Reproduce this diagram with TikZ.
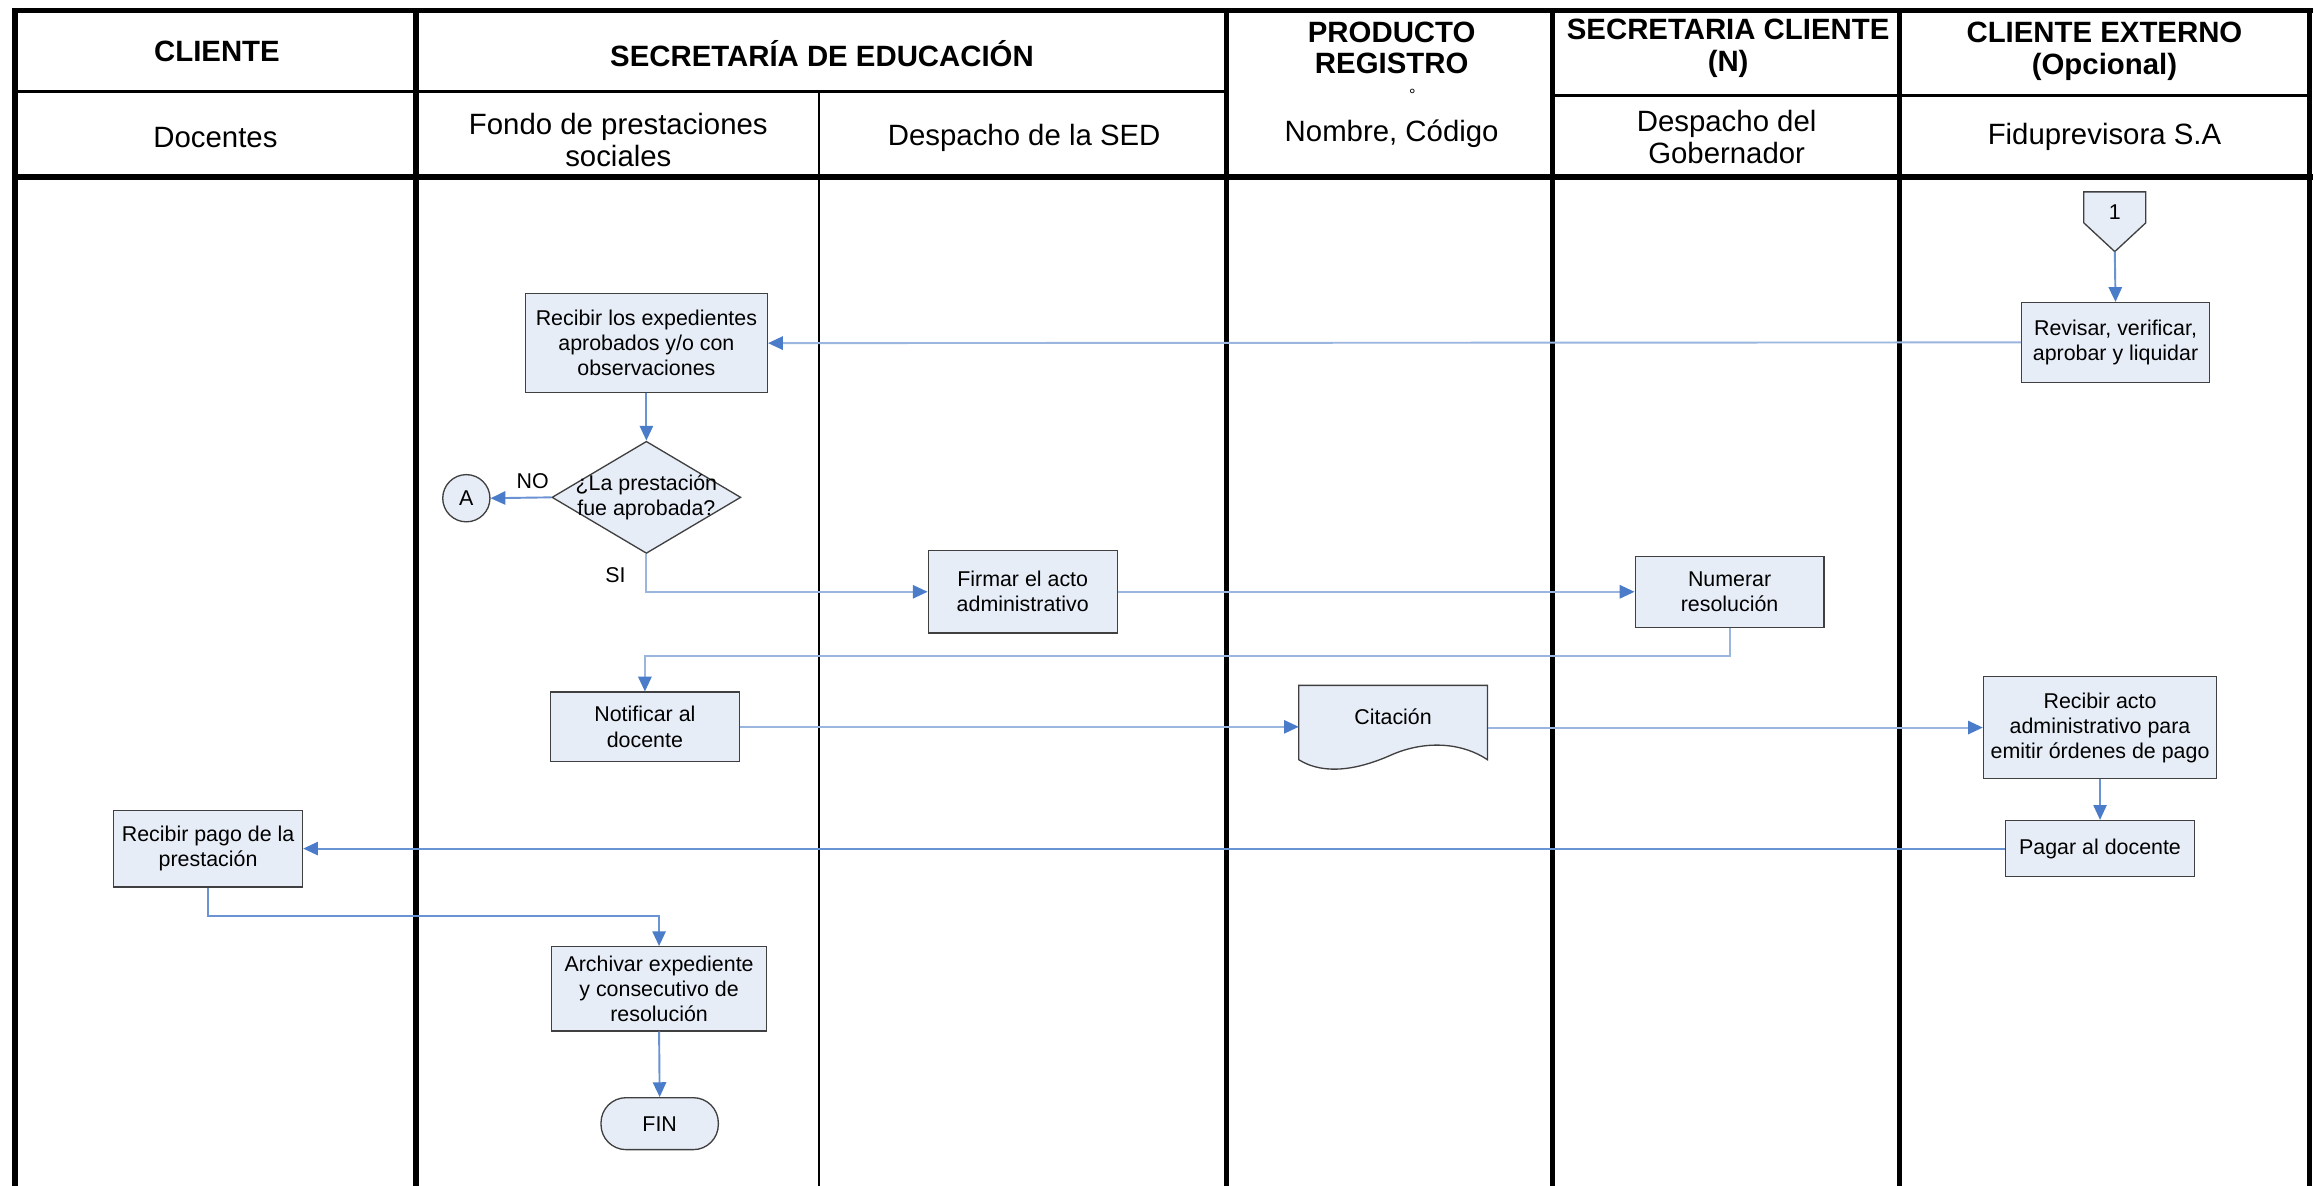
\documentclass[tikz,border=0pt]{standalone}
\usepackage{fontspec}
\setmainfont{Liberation Sans}
\usetikzlibrary{arrows.meta,shapes.geometric,calc}
\definecolor{boxfill}{HTML}{E7EDF7}
\definecolor{boxline}{HTML}{404040}
\definecolor{connmid}{HTML}{6A93D4}
\definecolor{connlight}{HTML}{9AB5DE}
\definecolor{tipblue}{HTML}{4A7CC9}
\begin{document}
\begin{tikzpicture}[x=1pt,y=-1pt,
 lanethick/.style={line width=3.8pt,black},
 lanethin/.style={line width=1.2pt,black},
 hdrbold/.style={font=\fontsize{19.9}{21.5}\selectfont\bfseries,align=center,inner sep=0},
 hdr/.style={font=\fontsize{19.9}{21.5}\selectfont,align=center,inner sep=0},
 procbox/.style={draw=boxline,fill=boxfill,line width=0.9pt,rectangle,inner sep=0,align=center,font=\fontsize{14.5}{17}\selectfont},
 lbl/.style={font=\fontsize{14.5}{17}\selectfont,inner sep=0},
 conn/.style={draw=connmid,line width=1.3pt,-{Triangle[length=10pt,width=9pt,color=tipblue,fill=tipblue]}},
 connl/.style={conn,draw=connlight},
]
\useasboundingbox (0,0) rectangle (1568,803.6);
\fill[white] (0,0) rectangle (1568,803.6);

% lanes and header grid
\draw[line width=3pt] (8,7) -- (1567,7);
\foreach \xx in {10,282,831,1052,1287,1565}{\draw[lanethick] (\xx,5.5) -- (\xx,812);}
\draw[lanethin] (555,62) -- (555,812);
\draw[line width=1.8pt] (10,62) -- (831,62);
\draw[line width=1.8pt] (1052,64.5) -- (1565,64.5);
\draw[line width=4pt] (8,120) -- (1567,120);

% header texts
\node[hdrbold] (hcli) at (147,34.5) {CLIENTE};
\node[hdrbold] (hsed) at (557,36.5) {SECRETARÍA DE EDUCACIÓN};
\node[hdrbold] (hprod) at (943,32.5) {PRODUCTO\\REGISTRO};
\node[font=\fontsize{11}{11}\selectfont,inner sep=0] (hdeg) at (957,64) {°};
\node[hdr] (hnom) at (943,90.5) {Nombre, Código};
\node[hdrbold] (hsc) at (1171,32.5) {SECRETARIA CLIENTE\\(N)};
\node[hdrbold] (hce) at (1426,35) {CLIENTE EXTERNO\\(Opcional)};
\node[hdr] (hdoc) at (146,93.5) {Docentes};
\node[hdr] (hfon) at (419,95) {Fondo de prestaciones\\sociales};
\node[hdr] (hdsed) at (694,93.5) {Despacho de la SED};
\node[hdr] (hgob) at (1170,93) {Despacho del\\Gobernador};
\node[hdr] (hfid) at (1426,92.5) {Fiduprevisora S.A};

% off-page connector 1
\draw[draw=boxline,fill=boxfill,line width=0.9pt] (1412,130) -- (1454,130) -- (1454,151) -- (1433,170.5) -- (1412,151) -- cycle;
\node[lbl] (p1) at (1433,144) {1};
\coordinate (p1tip) at (1433,170.5);

% process nodes
\node[procbox,minimum width=127pt,minimum height=54pt] (rev) at (1433.5,232) {Revisar, verificar,\\aprobar y liquidar};
\node[procbox,minimum width=164pt,minimum height=67pt] (rec) at (438,232.5) {Recibir los expedientes\\aprobados y/o con\\observaciones};
\node[diamond,draw=boxline,fill=boxfill,line width=0.9pt,minimum width=128pt,minimum height=76pt,inner sep=0] (dia) at (438,337) {};
\node[lbl,align=center,font=\fontsize{14.5}{16.5}\selectfont] (diatext) at (dia.center) {¿La prestación\\fue aprobada?};
\node[circle,draw=boxline,fill=boxfill,line width=0.9pt,minimum size=32pt,inner sep=0,font=\fontsize{14.5}{17}\selectfont] (ca) at (316,337.6) {A};
\node[lbl] (lno) at (361,326) {NO};
\node[lbl] (lsi) at (417,390) {SI};
\node[procbox,minimum width=128pt,minimum height=56pt] (fir) at (693,401) {Firmar el acto\\administrativo};
\node[procbox,minimum width=128pt,minimum height=48pt] (num) at (1172,401) {Numerar\\resolución};
\node[procbox,minimum width=128pt,minimum height=47pt] (noti) at (437,492.5) {Notificar al\\docente};

% document shape
\node[minimum width=127.5pt,minimum height=50pt,inner sep=0] (cit) at (944,489.6) {};
\draw[draw=boxline,fill=boxfill,line width=0.9pt] (cit.north west) -- (cit.north east) -- (cit.south east)
  .. controls (992,504) and (968,501) .. (944,511)
  .. controls (922,521) and (898,526) .. (cit.south west) -- cycle;
\node[lbl] (cittxt) at (944,485.6) {Citación};

\node[procbox,minimum width=158pt,minimum height=69pt] (ract) at (1423,493) {Recibir acto\\administrativo para\\emitir órdenes de pago};
\node[procbox,minimum width=128pt,minimum height=38pt] (pag) at (1423,575) {Pagar al docente};
\node[procbox,minimum width=128pt,minimum height=52pt] (rpago) at (141,575) {Recibir pago de la\\prestación};
\node[procbox,minimum width=146pt,minimum height=57pt] (arch) at (446.6,670) {Archivar expediente\\y consecutivo de\\resolución};
\node[procbox,rounded corners=17pt,minimum width=79.5pt,minimum height=35.2pt] (fin) at (447,761.4) {FIN};

% connectors
\draw[conn] (p1tip) -- (rev.north);
\draw[connl] (rev.west) -- (rec.east);
\draw[conn] (rec.south) -- (dia.north);
\draw[conn] (dia.west) -- (ca.east);
\draw[connl] (dia.south) |- (fir.west);
\draw[connl] (fir.east) -- (num.west);
\draw[connl] (num.south) -- ++(0,19) -| (noti.north);
\draw[connl] (noti.east) -- (noti.east -| cit.west);
\draw[connl] (ract.west -| cit.east) -- (ract.west);
\draw[conn,line width=0.8pt] (ract.south) -- (pag.north);
\draw[conn] (pag.west) -- (rpago.east);
\draw[conn] (rpago.south) -- ++(0,19.5) -| (arch.north);
\draw[conn] (arch.south) -- (fin.north);
\end{tikzpicture}
\end{document}
